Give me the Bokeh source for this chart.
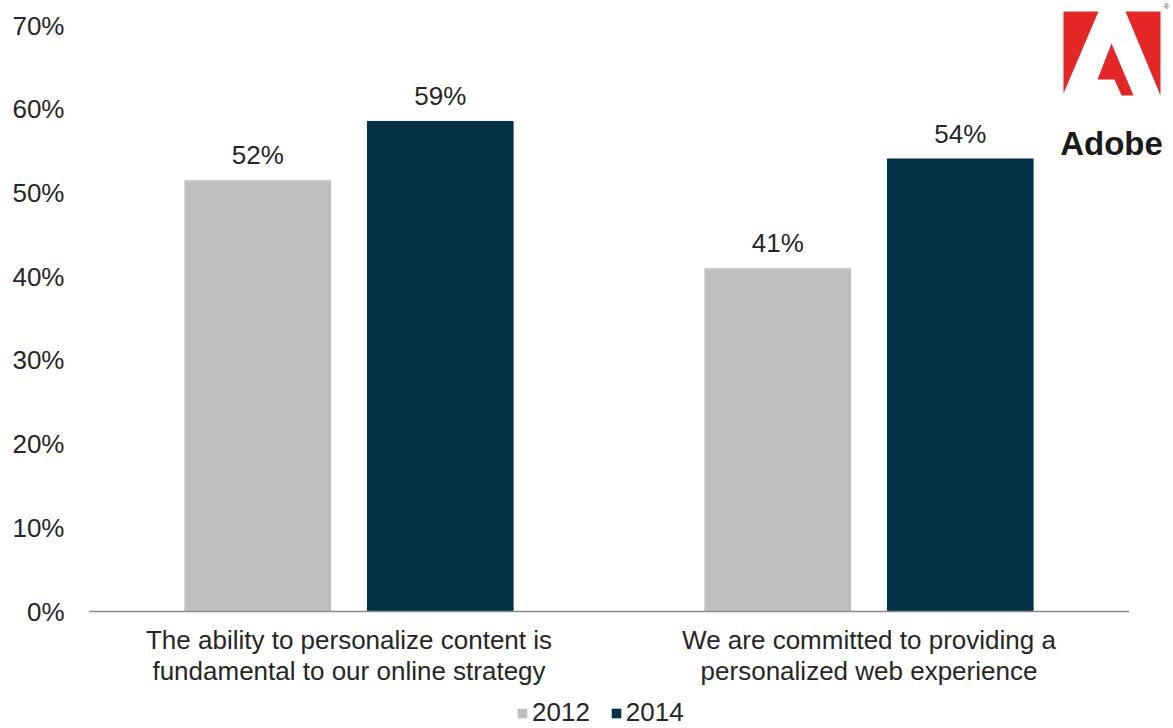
from bokeh.plotting import figure
from bokeh.models import ColumnDataSource, FixedTicker, Range1d, Legend, LegendItem
from bokeh.core.properties import value
from bokeh.embed import file_html
from bokeh.resources import INLINE

# ---- data ----
categories = [
    "The ability to personalize content is\nfundamental to our online strategy",
    "We are committed to providing a\npersonalized web experience",
]
years = ["2012", "2014"]
values_2012 = [51.5, 41.0]
values_2014 = [58.6, 54.1]
labels_2012 = ["52%", "41%"]
labels_2014 = ["59%", "54%"]
y_ticks = [0, 10, 20, 30, 40, 50, 60, 70]
y_tick_labels = ["0%", "10%", "20%", "30%", "40%", "50%", "60%", "70%"]
colors = ["#BFBFBF", "#023246"]

# ---- layout helpers (page pixels -> data) ----
W, H = 1173, 728
FRAME_L, FRAME_T = 88, 0
FRAME_R, FRAME_B = W, H
BASE_PX, TOP70_PX = 611, 25
PX_PER_PCT = (BASE_PX - TOP70_PX) / 70.0
CAT_PX = 520.0
X0_PX = 88.5

def dx(px):
    return (px - X0_PX) / CAT_PX

def dy(py):
    return (BASE_PX - py) / PX_PER_PCT

FONT = "Liberation Sans"
TXT = "#262626"
FS = "26px"

p = figure(width=W, height=H, output_backend="svg", toolbar_location=None,
           x_range=Range1d(dx(FRAME_L), dx(FRAME_R)),
           y_range=Range1d(dy(FRAME_B), dy(FRAME_T)),
           min_border_left=FRAME_L, min_border_right=0,
           min_border_top=0, min_border_bottom=0)
p.outline_line_color = None
p.grid.visible = False
p.xaxis.visible = False
p.background_fill_color = "white"
p.border_fill_color = "white"

ya = p.yaxis[0]
ya.ticker = FixedTicker(ticks=y_ticks)
ya.major_label_overrides = {t: l for t, l in zip(y_ticks, y_tick_labels)}
ya.axis_line_color = None
ya.major_tick_line_color = None
ya.minor_tick_line_color = None
ya.major_tick_out = 0
ya.major_tick_in = 0
ya.major_label_standoff = 24
ya.major_label_text_font = FONT
ya.major_label_text_font_size = FS
ya.major_label_text_color = TXT

centers = [i + 0.5 for i in range(len(categories))]
off = 0.1755
bw = 0.282

src12 = ColumnDataSource(dict(x=[c - off for c in centers], top=values_2012, lab=labels_2012))
src14 = ColumnDataSource(dict(x=[c + off for c in centers], top=values_2014, lab=labels_2014))

r12 = p.vbar(x="x", top="top", bottom=0, width=bw, source=src12, fill_color=colors[0], line_color=None)
r14 = p.vbar(x="x", top="top", bottom=0, width=bw, source=src14, fill_color=colors[1], line_color=None)

for s in (src12, src14):
    p.text(x="x", y="top", text="lab", source=s, text_align="center", text_baseline="bottom",
           y_offset=-10, text_font=value(FONT), text_font_size=FS, text_color=TXT)

# baseline
p.segment(x0=[0], y0=[0], x1=[len(categories)], y1=[0], line_color="#8C8C8C", line_width=1.5)

# category labels
p.text(x=centers, y=[dy(624)] * len(categories), text=categories, text_align="center",
       text_baseline="top", text_line_height=1.05, text_font=value(FONT),
       text_font_size=FS, text_color=TXT)

# legend
legend = Legend(items=[LegendItem(label=years[0], renderers=[r12]),
                       LegendItem(label=years[1], renderers=[r14])],
                orientation="horizontal", location=(516 - FRAME_L, 0),
                glyph_width=12, glyph_height=12, label_standoff=4, spacing=20,
                padding=0, margin=0, border_line_color=None, background_fill_alpha=0,
                label_text_font=FONT, label_text_font_size=FS, label_text_color=TXT)
p.add_layout(legend)

# Adobe logo
red = "#E32726"
logo_xs = [
    [1063, 1098, 1063],
    [1125, 1160, 1160],
    [1111, 1133, 1121, 1114, 1097],
]
logo_ys = [
    [11, 11, 93],
    [11, 11, 95],
    [43, 95, 95, 79, 79],
]
p.patches(xs=[[dx(v) for v in xs] for xs in logo_xs],
          ys=[[dy(v) for v in ys] for ys in logo_ys],
          fill_color=red, line_color=None)
p.text(x=[dx(1111)], y=[dy(143)], text=["Adobe"], text_align="center", text_baseline="alphabetic",
       text_font=value(FONT), text_font_style="bold",
       text_font_size="33px", text_color="#1a1a1a")
p.text(x=[dx(1166)], y=[dy(6)], text=["®"], text_align="center", text_baseline="middle",
       text_font=value(FONT), text_font_size="8px", text_color="#555555")

open("out.html", "w").write(file_html(p, INLINE))
